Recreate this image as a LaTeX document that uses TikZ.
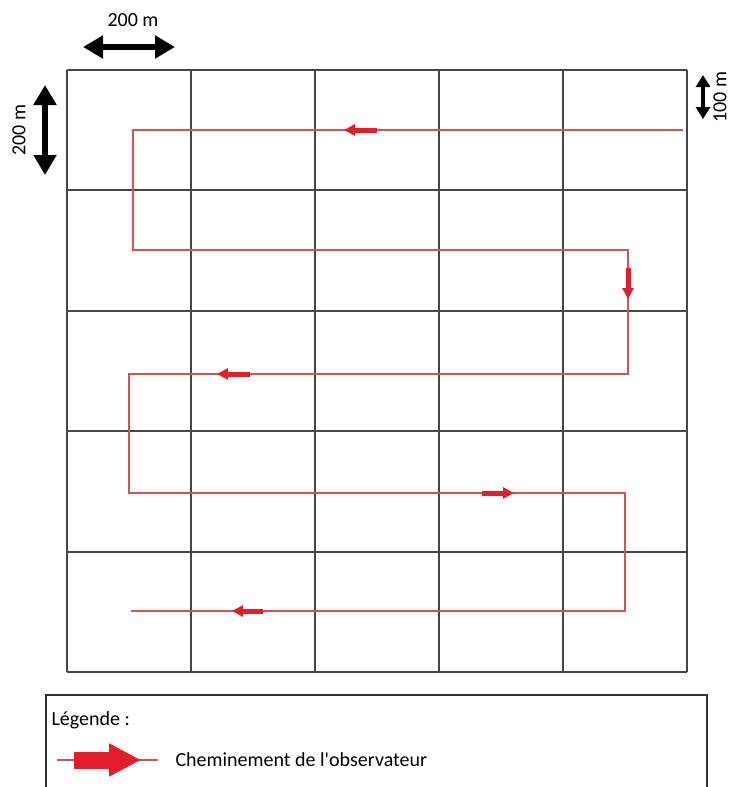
\documentclass[tikz,border=0pt]{standalone}
\usepackage{fontspec}
\setmainfont{Carlito}
\usetikzlibrary{arrows.meta,positioning,calc}
\definecolor{trait}{RGB}{222,80,80}
\definecolor{fleche}{RGB}{228,30,40}

\begin{document}
\begin{tikzpicture}[
        x=1pt, y=-1pt,
        font=\fontsize{20}{23}\selectfont,
        grille/.style={draw=black!72, line width=2pt},
        trajet/.style={draw=trait, line width=1.4pt},
        pas/.style={-{Triangle[width=11pt, length=11pt]}, draw=fleche, line width=5pt},
        echelle/.style={{Triangle[width=22pt, length=20pt]}-{Triangle[width=22pt, length=20pt]}, line width=6pt},
        petite/.style={{Triangle[width=14pt, length=12pt]}-{Triangle[width=14pt, length=12pt]}, line width=4pt}
        ]
        \useasboundingbox (0,0) rectangle (731,787);

        % grille 5 x 5
        \foreach \x in {67,191,315,439,563,687}
            \draw[grille] (\x,70) -- (\x,672);
        \foreach \y in {70,190,311,431,552,672}
            \draw[grille] (67,\y) -- (687,\y);

        % echelles
        \node (lh) at (133,20) {200 m};
        \coordinate (h1) at (83,47);
        \coordinate (h2) at (175,47);
        \draw[echelle] (h1) -- (h2);
        \node[rotate=90, inner sep=0pt] (lv) at (19,130) {200 m};
        \coordinate (v1) at (45,85);
        \coordinate (v2) at (45,175);
        \draw[echelle] (v1) -- (v2);
        \node[rotate=90, inner sep=0pt] (lc) at (720,97) {100 m};
        \coordinate (c1) at (703,75);
        \coordinate (c2) at (703,119);
        \draw[petite] (c1) -- (c2);

        % trajet
        \coordinate (d) at (683,130);
        \coordinate (a1) at (133,130);
        \coordinate (a2) at (133,250);
        \coordinate (a3) at (628,250);
        \coordinate (a4) at (628,374);
        \coordinate (a5) at (129,374);
        \coordinate (a6) at (129,493);
        \coordinate (a7) at (625,493);
        \coordinate (a8) at (625,611);
        \coordinate (f) at (131,611);
        \draw[trajet] (d) -- (a1) -- (a2) -- (a3) -- (a4) -- (a5) -- (a6) -- (a7) -- (a8) -- (f);

        % sens de marche
        \draw[pas] (377,130) -- (344,130);
        \draw[pas] (628,268) -- (628,299);
        \draw[pas] (250,374) -- (217,374);
        \draw[pas] (482,493) -- (514,493);
        \draw[pas] (263,611) -- (232,611);

        % legende
        \draw[draw=black!80, line width=1.5pt] (46,787) -- (46,695) -- (707,695) -- (707,787);
        \node[anchor=west] (leg) at (48,720) {Légende :};
        \coordinate (l1) at (57,760);
        \coordinate (l2) at (158,760);
        \draw[trajet] (l1) -- (l2);
        \draw[-{Triangle[width=31pt, length=32pt]}, draw=fleche, line width=17pt] (74,760) -- (141,760);
        \node[anchor=west] (obs) at (172,760) {Cheminement de l\textquotesingle observateur};
    \end{tikzpicture}
\end{document}
